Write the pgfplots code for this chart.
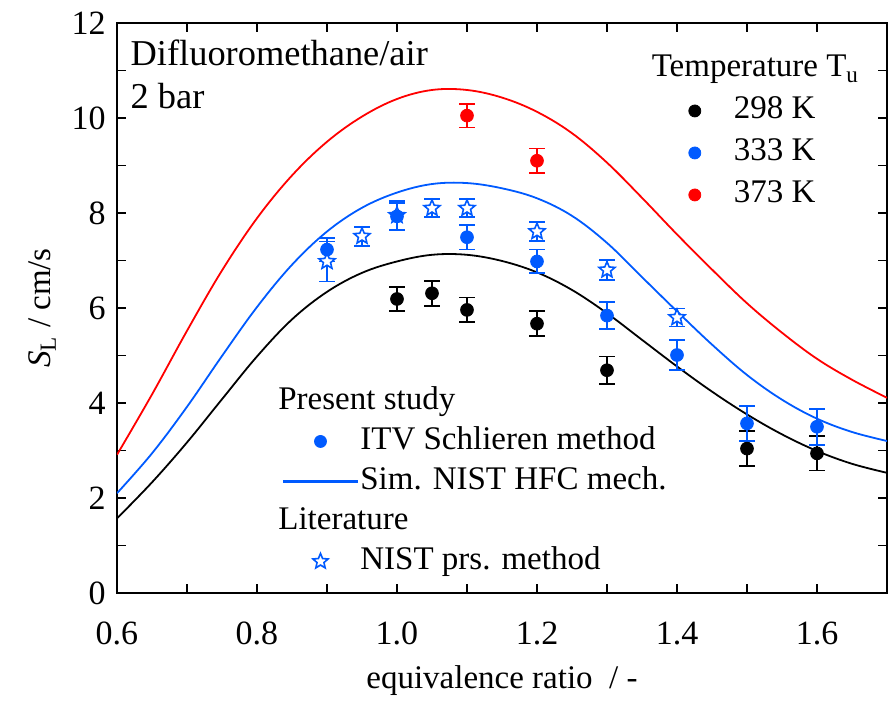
\documentclass[border=0pt]{standalone}
\usepackage{fontspec}
\setmainfont{Liberation Serif}
\usepackage{pgfplots}
\usepackage{pgfplotstable}
\pgfplotsset{compat=1.18}
\definecolor{myblue}{RGB}{0,90,255}
\definecolor{myred}{RGB}{255,0,0}

\pgfdeclareplotmark{ostar}{%
  \pgfpathmoveto{\pgfpointpolar{90}{\pgfplotmarksize}}%
  \pgfpathlineto{\pgfpointpolar{126}{0.45\pgfplotmarksize}}%
  \pgfpathlineto{\pgfpointpolar{162}{\pgfplotmarksize}}%
  \pgfpathlineto{\pgfpointpolar{198}{0.45\pgfplotmarksize}}%
  \pgfpathlineto{\pgfpointpolar{234}{\pgfplotmarksize}}%
  \pgfpathlineto{\pgfpointpolar{270}{0.45\pgfplotmarksize}}%
  \pgfpathlineto{\pgfpointpolar{306}{\pgfplotmarksize}}%
  \pgfpathlineto{\pgfpointpolar{342}{0.45\pgfplotmarksize}}%
  \pgfpathlineto{\pgfpointpolar{18}{\pgfplotmarksize}}%
  \pgfpathlineto{\pgfpointpolar{54}{0.45\pgfplotmarksize}}%
  \pgfpathclose
  \pgfusepathqfillstroke
}

% simulation curves
\pgfplotstableread{
x y
0.60 1.57
0.65 2.33
0.70 3.17
0.75 4.08
0.80 4.98
0.85 5.76
0.90 6.34
0.95 6.74
1.00 6.98
1.05 7.12
1.10 7.12
1.15 6.99
1.20 6.75
1.25 6.38
1.30 5.89
1.35 5.33
1.40 4.77
1.45 4.24
1.50 3.76
1.55 3.34
1.60 2.99
1.65 2.72
1.70 2.53
}\simblack
\pgfplotstableread{
x y
0.60 2.10
0.65 2.94
0.70 3.92
0.75 4.99
0.80 6.02
0.85 6.91
0.90 7.61
0.95 8.11
1.00 8.43
1.05 8.61
1.10 8.63
1.15 8.52
1.20 8.31
1.25 7.94
1.30 7.37
1.35 6.65
1.40 5.93
1.45 5.23
1.50 4.59
1.55 4.07
1.60 3.67
1.65 3.39
1.70 3.20
}\simblue
\pgfplotstableread{
x y
0.60 2.91
0.65 4.18
0.70 5.52
0.75 6.79
0.80 7.89
0.85 8.79
0.90 9.50
0.95 10.03
1.00 10.40
1.05 10.59
1.10 10.59
1.15 10.43
1.20 10.13
1.25 9.68
1.30 9.06
1.35 8.32
1.40 7.55
1.45 6.81
1.50 6.10
1.55 5.48
1.60 4.93
1.65 4.49
1.70 4.11
}\simred

% measurements
\pgfplotstableread{
x y ey
1.00 6.19 0.25
1.05 6.31 0.26
1.10 5.96 0.26
1.20 5.67 0.26
1.30 4.69 0.29
1.50 3.04 0.37
1.60 2.94 0.36
}\expblack
\pgfplotstableread{
x y ey
0.90 7.23 0.25
1.00 7.93 0.28
1.10 7.49 0.26
1.20 6.98 0.25
1.30 5.84 0.29
1.40 5.01 0.32
1.50 3.57 0.37
1.60 3.50 0.38
}\expblue
\pgfplotstableread{
x y ey
1.10 10.05 0.25
1.20 9.10 0.26
}\expred
\pgfplotstableread{
x y ey
0.90 6.98 0.42
0.95 7.51 0.20
1.00 7.95 0.30
1.05 8.10 0.19
1.10 8.10 0.19
1.20 7.61 0.20
1.30 6.80 0.21
1.40 5.80 0.19
}\nist

\begin{document}
\fontsize{16.5}{20}\selectfont
\begin{tikzpicture}
\pgfplotsset{
  base/.style={
    width=385pt, height=285pt, scale only axis,
    xmin=0.6, xmax=1.7, ymin=0, ymax=12,
  },
  leg/.style={
    legend cell align=left,
    legend style={draw=none, fill=none, inner sep=0pt, row sep=2pt,
      font=\fontsize{16.5}{20}\selectfont,
      nodes={inner sep=1pt, text height=12pt, text depth=4pt}},
  },
  markimg/.style={legend image code/.code={\path (0pt,0pt) (37pt,0pt);\draw[##1] plot coordinates {(18.5pt,0pt)};}},
  lineimg/.style={legend image code/.code={\fill[myblue] (0pt,-0.45pt) rectangle (37pt,0.45pt);}},
  ebar/.style={error bars/y dir=both, error bars/y explicit,
    error bars/error bar style={line width=0.9pt},
    error bars/error mark options={rotate=90, mark size=3.8pt, line width=0.9pt}},
}
\begin{axis}[base, leg,
  xtick={0.6,0.8,1.0,1.2,1.4,1.6},
  minor xtick={0.7,0.9,1.1,1.3,1.5,1.7},
  ytick={0,2,4,6,8,10,12},
  minor ytick={1,3,5,7,9,11},
  tick align=inside,
  major tick length=4.5pt, minor tick length=4.5pt,
  major tick style={line width=0.9pt, black},
  minor tick style={line width=0.9pt, black},
  axis line style={line width=1pt},
  /pgf/number format/assume math mode=true,
  ticklabel style={font=\fontsize{17}{20}\selectfont},
  x tick label style={text height=20pt, anchor=north},
  x tick label style={/pgf/number format/fixed, /pgf/number format/fixed zerofill, /pgf/number format/precision=1},
  y tick label style={/pgf/number format/fixed, /pgf/number format/precision=0},
  xlabel={equivalence ratio \ / -},
  ylabel={\textit{S}\textsubscript{L} / cm/s},
  label style={font=\fontsize{16.5}{20}\selectfont},
  x label style={at={(axis description cs:0.5,-0.153)}, anchor=center},
  y label style={at={(axis description cs:-0.097,0.5)}, anchor=center},
  legend style={at={(axis cs:0.836,4.42)}, anchor=north west},
]
% legend header + entries
\addlegendimage{empty legend}
\addlegendentry{\hspace*{-41pt}Present study}
\addlegendimage{only marks, mark=*, mark size=3pt, myblue, draw=none, markimg}
\addlegendentry{ITV Schlieren method}
\addlegendimage{myblue, line width=0.9pt, no marks, lineimg}
\addlegendentry{Sim. NIST HFC mech.}
\addlegendimage{empty legend}
\addlegendentry{\hspace*{-41pt}Literature}
\addlegendimage{only marks, mark=ostar, mark size=4pt, myblue, mark options={fill=white, line width=0.8pt}, markimg}
\addlegendentry{NIST prs. method}

\addplot[black, line width=0.9pt, smooth, tension=0.6, forget plot] table[x=x,y=y] {\simblack};
\addplot[myblue, line width=0.9pt, smooth, tension=0.6, forget plot] table[x=x,y=y] {\simblue};
\addplot[myred, line width=0.9pt, smooth, tension=0.6, forget plot] table[x=x,y=y] {\simred};

\addplot[myblue, only marks, mark=ostar, mark size=4.2pt, mark options={fill=white, line width=0.8pt}, ebar, forget plot]
  table[x=x,y=y,y error=ey] {\nist};
\addplot[black, only marks, mark=*, mark size=3.2pt, ebar, forget plot]
  table[x=x,y=y,y error=ey] {\expblack};
\addplot[myblue, only marks, mark=*, mark size=3.2pt, ebar, forget plot]
  table[x=x,y=y,y error=ey] {\expblue};
\addplot[myred, only marks, mark=*, mark size=3.2pt, ebar, forget plot]
  table[x=x,y=y,y error=ey] {\expred};

\node[anchor=north west, align=left, inner sep=0pt, font=\fontsize{18.2}{21.5}\selectfont]
  at (axis cs:0.619,11.66) {Difluoromethane/air\\2 bar};
\end{axis}

\begin{axis}[base, leg, hide axis,
  legend style={at={(axis cs:1.372,11.42)}, anchor=north west, row sep=3pt},
]
\addplot[draw=none, forget plot] coordinates {(1,1)};
\addlegendimage{empty legend}
\addlegendentry{\hspace*{-41pt}Temperature T\textsubscript{u}}
\addlegendimage{only marks, mark=*, mark size=3pt, black, draw=none, markimg}
\addlegendentry{298 K}
\addlegendimage{only marks, mark=*, mark size=3pt, myblue, draw=none, markimg}
\addlegendentry{333 K}
\addlegendimage{only marks, mark=*, mark size=3pt, myred, draw=none, markimg}
\addlegendentry{373 K}
\end{axis}
\path ([shift={(-58.5pt,-53pt)}]current axis.south west) rectangle ([shift={(4.5pt,11.5pt)}]current axis.north east);
\end{tikzpicture}
\end{document}
